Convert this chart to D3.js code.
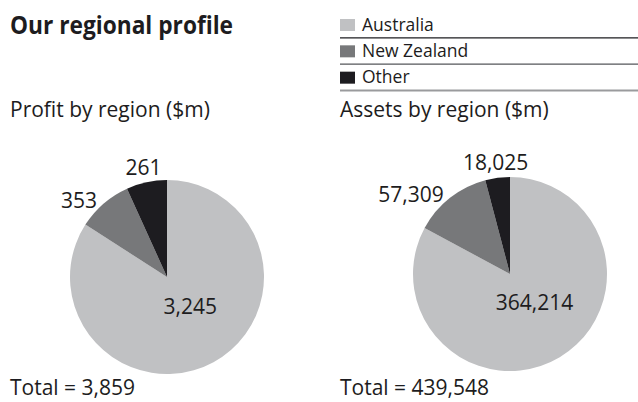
<!DOCTYPE html>
<html>
<head>
<meta charset="utf-8">
<script src="https://cdn.jsdelivr.net/npm/d3@7"></script>
<style>
  body { margin: 0; background: #fff; }
  text { font-family: "Open Sans", sans-serif; fill: #1d1c20; }
</style>
</head>
<body>
<svg id="chart"></svg>
<script>
// Regions and values ($m)
const regions = ['Australia', 'New Zealand', 'Other'];
const profitValues = [3245, 353, 261];
const assetValues = [364214, 57309, 18025];
const chartTitles = ['Profit by region ($m)', 'Assets by region ($m)'];
const colours = ['#c0c1c3', '#77787a', '#1d1c20'];

const width = 638;
const height = 402;

const svg = d3.select('#chart')
	.attr('width', width)
	.attr('height', height);

// Main heading (condensed bold in the original)
svg.append('text')
	.attr('x', 10)
	.attr('y', 34)
	.attr('font-size', 25)
	.attr('font-weight', 700)
	.attr('textLength', 223)
	.attr('lengthAdjust', 'spacingAndGlyphs')
	.text('Our regional profile');

// Legend, each entry with a rule underneath
const colour = d3.scaleOrdinal().domain(regions).range(colours);
const legendY = d3.scaleBand().domain(regions).range([13, 92]);
const rules = ['#1d1c20', '#55565a', '#9a9b9d'];

const legend = svg.append('g').attr('class', 'legend');
const items = legend.selectAll('g')
	.data(regions)
	.join('g')
	.attr('transform', (d) => `translate(340,${legendY(d)})`);

items.append('rect')
	.attr('x', 0)
	.attr('y', 6)
	.attr('width', 15)
	.attr('height', 12)
	.attr('fill', (d) => colour(d));

items.append('text')
	.attr('x', 22)
	.attr('y', 17.5)
	.attr('font-size', 17.5)
	.text((d) => d);

items.append('line')
	.attr('x1', 0)
	.attr('x2', width - 340)
	.attr('y1', legendY.bandwidth() - 1.5)
	.attr('y2', legendY.bandwidth() - 1.5)
	.attr('stroke', (d, i) => rules[i])
	.attr('stroke-width', (d, i) => (i === 2 ? 2 : 1.4));

// Pies
const radius = 97;
const pie = d3.pie().sort(null).value((d) => d.value);
const arc = d3.arc().innerRadius(0).outerRadius(radius);
const innerLabelArc = d3.arc().innerRadius(40).outerRadius(40);
const fmt = d3.format(',');

const panels = [
	{ title: chartTitles[0], values: profitValues, x: 10, cx: 167, cy: 277 },
	{ title: chartTitles[1], values: assetValues, x: 340, cx: 510, cy: 274 },
];

panels.forEach((panel) => {
	const data = regions.map((r, i) => ({ region: r, value: panel.values[i] }));
	const arcs = pie(data);

	svg.append('text')
		.attr('x', panel.x)
		.attr('y', 117)
		.attr('font-size', 21)
		.text(panel.title);

	const g = svg.append('g')
		.attr('transform', `translate(${panel.cx},${panel.cy})`);

	g.selectAll('path')
		.data(arcs)
		.join('path')
		.attr('d', arc)
		.attr('fill', (d) => colour(d.data.region));

	// value labels: big slice inside, small slices outside
	g.selectAll('text')
		.data(arcs)
		.join('text')
		.attr('font-size', 21)
		.each(function (d) {
			const a = (d.startAngle + d.endAngle) / 2;
			const s = Math.sin(a);
			const c = -Math.cos(a);
			const el = d3.select(this);
			if (d.index === 0) {
				const [x, y] = innerLabelArc.centroid(d);
				el.attr('x', x + 4).attr('y', y)
					.attr('dy', '0.1em')
					.attr('text-anchor', 'middle');
			} else if (Math.abs(s) > 0.4) {
				el.attr('x', s * (radius + 10))
					.attr('y', c * (radius + 10))
					.attr('dy', '0.55em')
					.attr('text-anchor', 'end');
			} else {
				el.attr('x', s * (radius + 15))
					.attr('y', c * (radius + 15))
					.attr('dy', '0.35em')
					.attr('text-anchor', 'middle');
			}
		})
		.text((d) => fmt(d.value));

	svg.append('text')
		.attr('x', panel.x)
		.attr('y', 395)
		.attr('font-size', 21)
		.text(`Total = ${fmt(d3.sum(panel.values))}`);
});
</script>
</body>
</html>
